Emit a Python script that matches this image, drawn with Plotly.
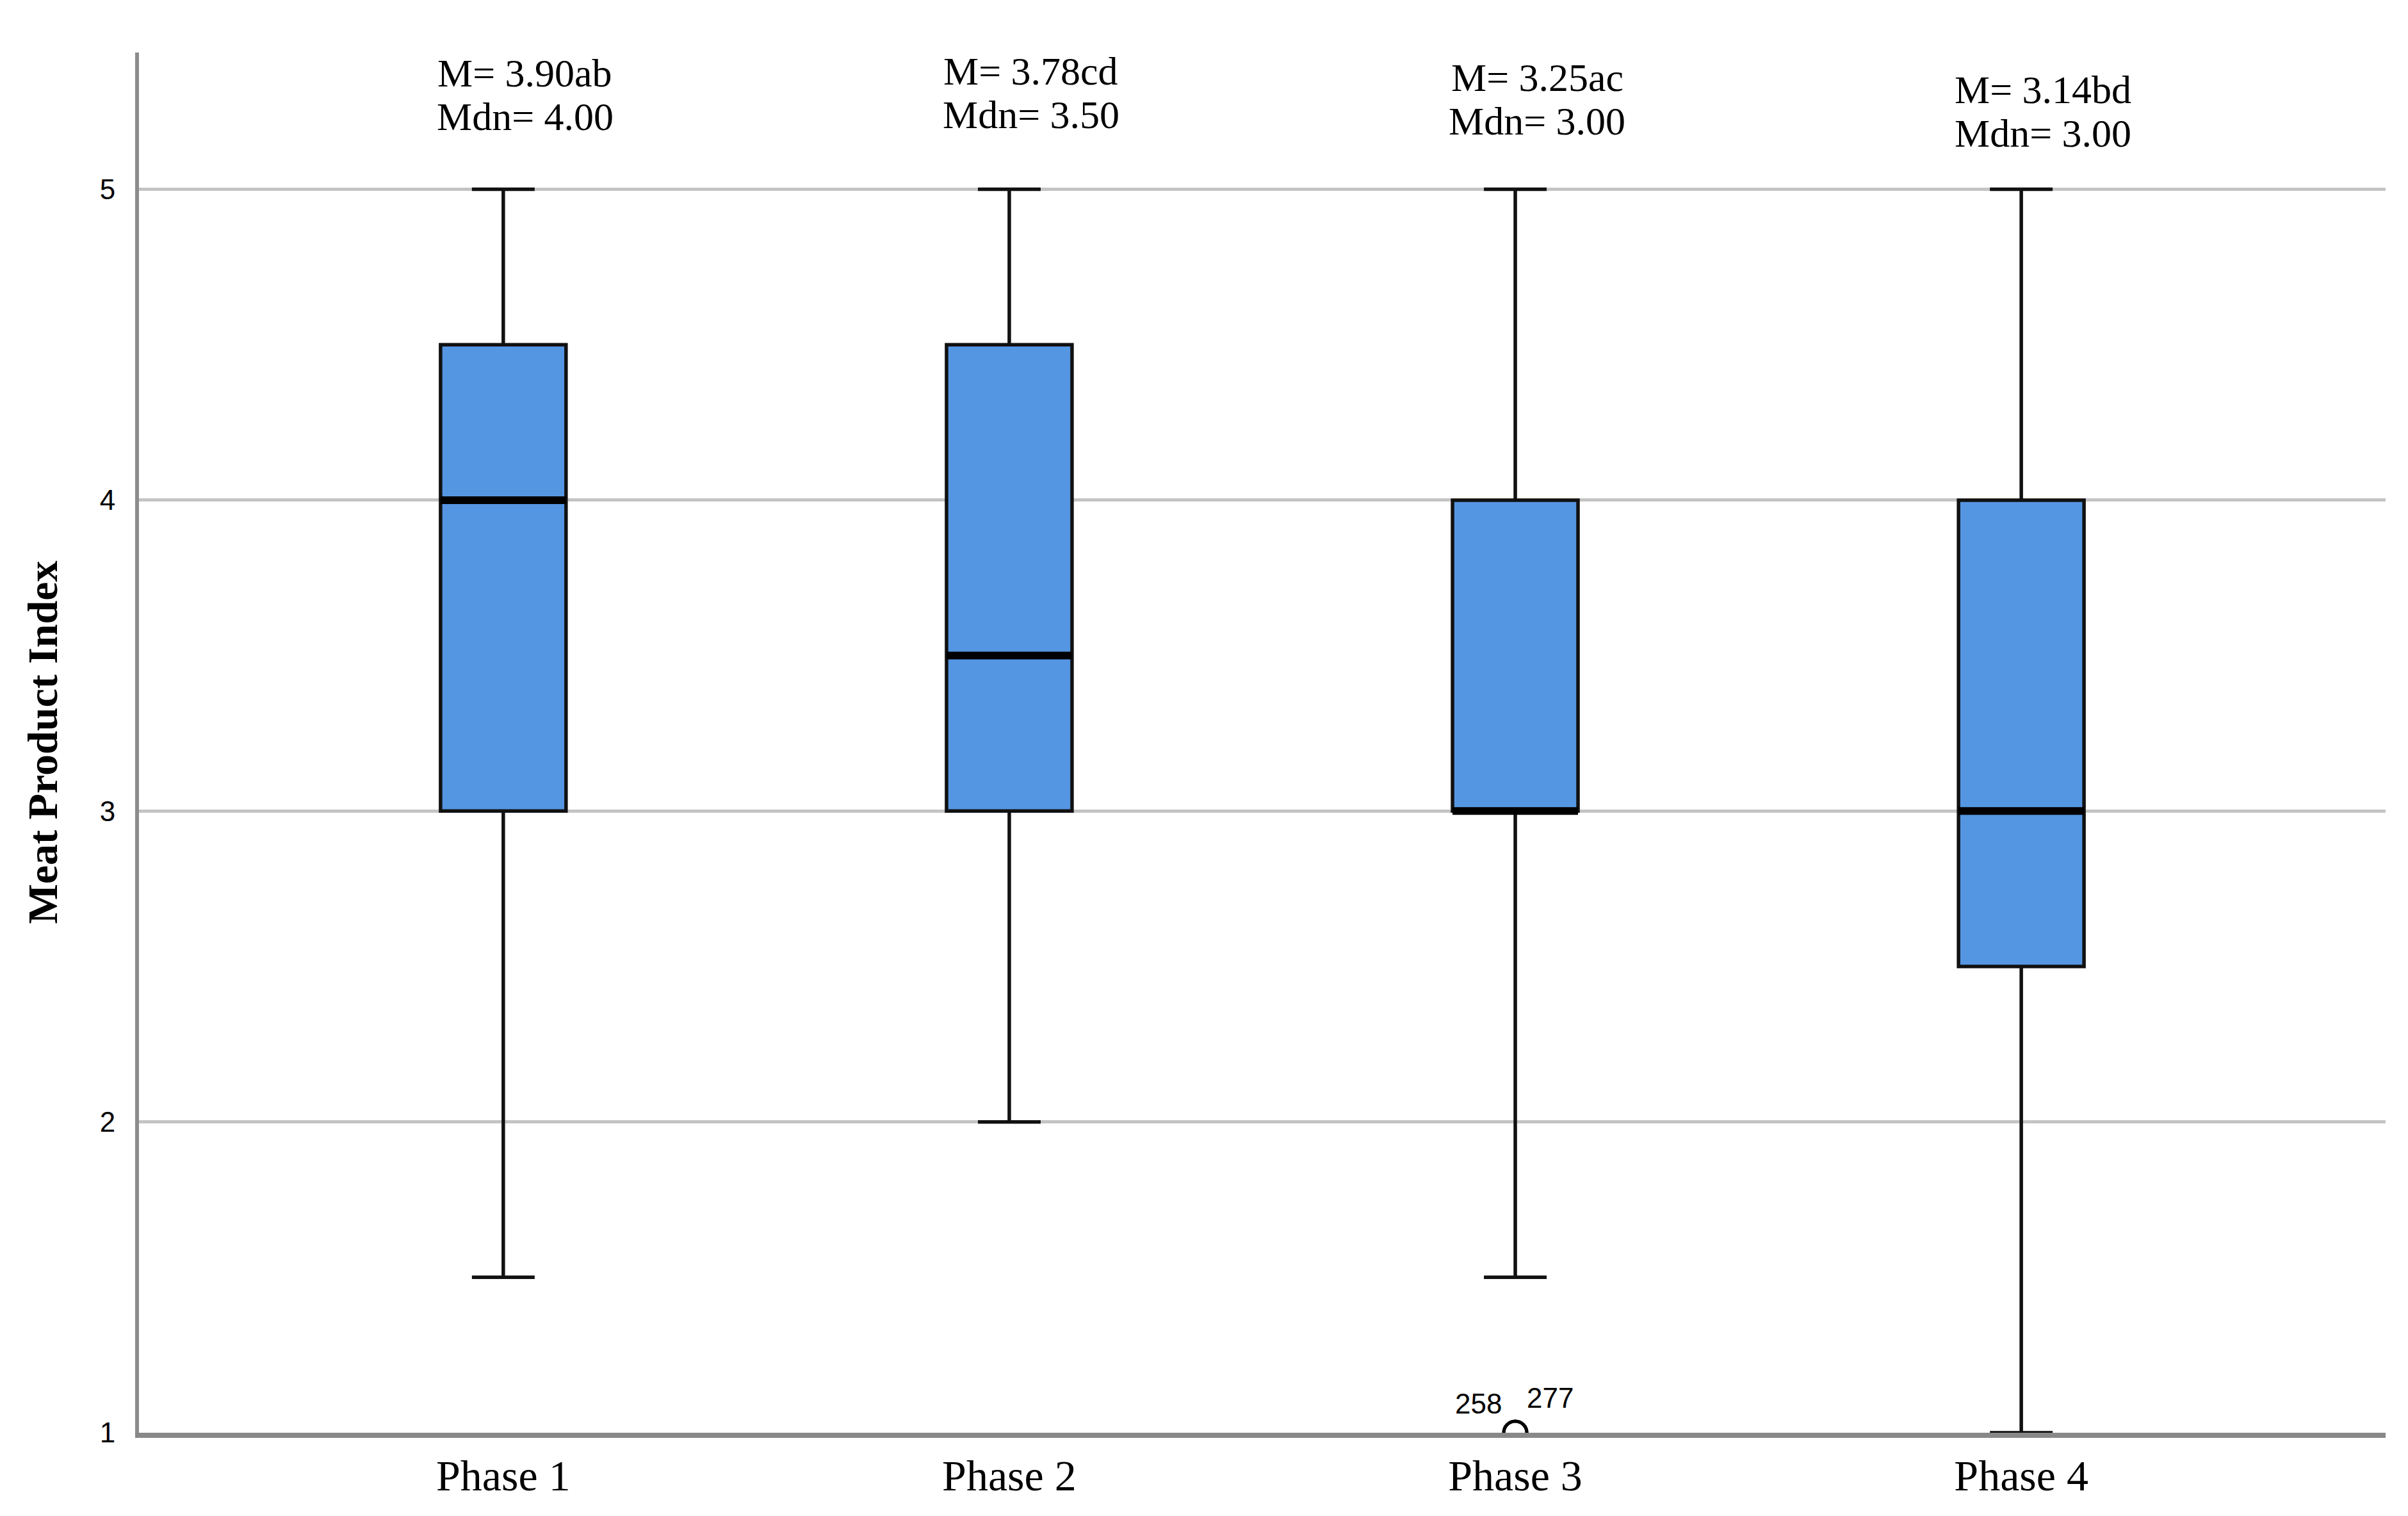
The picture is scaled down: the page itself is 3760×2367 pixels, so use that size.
import plotly.graph_objs as go

# Box statistics
phases = ['Phase 1', 'Phase 2', 'Phase 3', 'Phase 4']
lower_whisker = [1.5, 2.0, 1.5, 1.0]
q1 = [3.0, 3.0, 3.0, 2.5]
median = [4.0, 3.5, 3.0, 3.0]
q3 = [4.5, 4.5, 4.0, 4.0]
upper_whisker = [5.0, 5.0, 5.0, 5.0]

# Mean / median labels above each box
mean_labels = ['M= 3.90ab', 'M= 3.78cd', 'M= 3.25ac', 'M= 3.14bd']
median_labels = ['Mdn= 4.00', 'Mdn= 3.50', 'Mdn= 3.00', 'Mdn= 3.00']

# Outliers
outlier_phase = [2, 2]
outlier_value = [1.0, 1.0]
outlier_id = ['258', '277']

pos = list(range(len(phases)))
box_w = 0.248
label_y = [5.305, 5.31, 5.29, 5.25]

fig = go.Figure()

#Boxes
fig.add_trace(
    go.Box(
        x=pos,
        q1=q1,
        median=median,
        q3=q3,
        lowerfence=lower_whisker,
        upperfence=upper_whisker,
        width=box_w,
        whiskerwidth=0.5,
        fillcolor='#5596E3',
        line=dict(color='#111111', width=5.5),
        boxpoints=False,
        showlegend=False,
        hoverinfo='skip'
    )
)

#Thick median lines
mx, my = [], []
for i, m in zip(pos, median):
    mx += [i - box_w / 2, i + box_w / 2, None]
    my += [m, m, None]
fig.add_trace(
    go.Scatter(
        x=mx, y=my, mode='lines',
        line=dict(color='black', width=12),
        showlegend=False, hoverinfo='skip'
    )
)

#Outlier
fig.add_trace(
    go.Scatter(
        x=outlier_phase, y=outlier_value, mode='markers',
        marker=dict(symbol='circle-open', size=36, color='black', line=dict(width=5)),
        showlegend=False, hoverinfo='skip'
    )
)

#Annotations
for i in pos:
    fig.add_annotation(x=i, y=label_y[i], text=mean_labels[i], showarrow=False,
                       xshift=34, yshift=34, yanchor='middle',
                       font=dict(family='Liberation Serif', size=62, color='black'))
    fig.add_annotation(x=i, y=label_y[i], text=median_labels[i], showarrow=False,
                       xshift=34, yshift=-34, yanchor='middle',
                       font=dict(family='Liberation Serif', size=62, color='black'))

shifts = [(-58, 46), (54, 55)]
for k in range(len(outlier_id)):
    fig.add_annotation(x=outlier_phase[k], y=outlier_value[k], text=outlier_id[k],
                       showarrow=False, xshift=shifts[k][0], yshift=shifts[k][1],
                       yanchor='middle',
                       font=dict(family='Liberation Sans', size=44, color='black'))

fig.add_annotation(xref='paper', yref='paper', x=0, y=0.5, xshift=-151,
                   xanchor='center', yanchor='middle',
                   text='<b>Meat Product Index</b>', textangle=-90, showarrow=False,
                   font=dict(family='Liberation Serif', size=66, color='black'))

fig.update_layout(
    width=3760, height=2367,
    margin=dict(l=209, r=43, t=74, b=138),
    plot_bgcolor='white', paper_bgcolor='white',
    xaxis=dict(
        range=[-0.72, 3.72], tickvals=pos, ticktext=phases,
        showgrid=False, zeroline=False, ticks='',
        showline=True, linecolor='#888888', linewidth=8,
        tickfont=dict(family='Liberation Serif', size=68, color='black'),
        ticklabelstandoff=0
    ),
    yaxis=dict(
        range=[1, 5.44], tickvals=[1, 2, 3, 4, 5],
        showgrid=True, gridcolor='#c4c4c4', gridwidth=5,
        zeroline=False, ticks='',
        showline=True, linecolor='#8c8c8c', linewidth=6,
        tickfont=dict(family='Liberation Sans', size=44, color='black'),
        ticklabelstandoff=22
    )
)

fig.write_html("out.html")
